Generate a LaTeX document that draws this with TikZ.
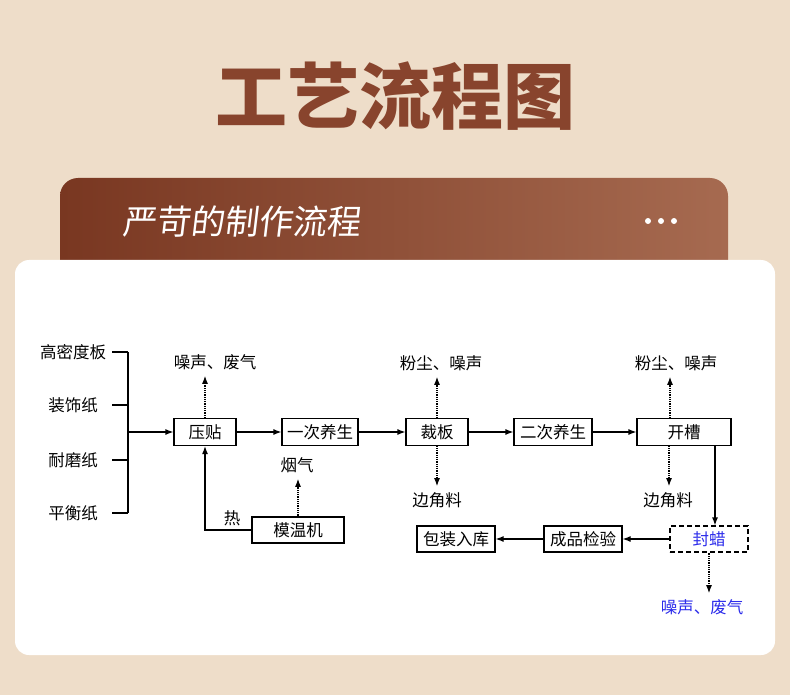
\documentclass[tikz,border=0pt]{standalone}
\usepackage{fontspec}
\setmainfont{Noto Sans CJK SC}
\newfontfamily\cjkslant[FakeSlant=0.12]{Noto Sans CJK SC}
\usetikzlibrary{arrows.meta,calc}
\definecolor{PageClr}{RGB}{238,221,201}
\definecolor{TitleClr}{RGB}{136,68,45}
\definecolor{BandLeftClr}{RGB}{121,55,33}
\definecolor{BandRightClr}{RGB}{166,106,80}
\definecolor{WaxClr}{RGB}{45,45,235}

\begin{document}
\begin{tikzpicture}[x=1pt,y=-1pt,
  txt/.style={inner sep=0pt,font=\fontsize{16.5}{18}\selectfont},
  box/.style={draw,line width=1.2pt,minimum height=27pt,inner sep=0pt,font=\fontsize{16.5}{18}\selectfont},
  flow/.style={-{Latex[length=8pt,width=6pt]},line width=1.2pt},
  vent/.style={-{Latex[length=8pt,width=6pt]},line width=1.1pt,dash pattern=on 1pt off 0.8pt,shorten >=6pt}]

\fill[PageClr] (0,0) rectangle (790,695);
\node[TitleClr,font=\fontsize{72}{74}\selectfont\bfseries] (title) at (395,96) {工艺流程图};
\shade[left color=BandLeftClr,right color=BandRightClr,rounded corners=18pt] (60,178) rectangle (728,300);
\node[white,anchor=west,inner sep=0pt,font=\fontsize{34}{36}\cjkslant] (band) at (122,222) {严苛的制作流程};
\foreach \x in {648,661,674} \fill[white] (\x,221) circle (3pt);
\fill[white,rounded corners=14pt] (15,260) rectangle (775,655);

\node[txt] (hdf) at (73,352) {高密度板};
\node[txt] (zsz) at (73,405) {装饰纸};
\node[txt] (nmz) at (73,460) {耐磨纸};
\node[txt] (phz) at (73,513) {平衡纸};
\coordinate (tick) at (112,432);
\coordinate (brM) at (128,432);

\node[box,minimum width=62pt] (yt) at (205,432) {压贴};
\node[box,minimum width=76pt] (yc) at (320,432) {一次养生};
\node[box,minimum width=62pt] (cb) at (437,432) {裁板};
\node[box,minimum width=78pt] (ec) at (553,432) {二次养生};
\node[box,minimum width=94pt] (kc) at (684,432) {开槽};
\node[box,dash pattern=on 5pt off 3pt,text=WaxClr,minimum width=78pt,minimum height=26pt] (fl) at (709,539) {封蜡};
\node[box,minimum width=78pt,minimum height=26pt] (jy) at (583,539) {成品检验};
\node[box,minimum width=78pt,minimum height=26pt] (bz) at (456,539) {包装入库};
\node[box,minimum width=92pt,minimum height=26pt] (mw) at (298,530) {模温机};

\node[txt] (fq1) at (215,362) {噪声、废气};
\node[txt] (yq) at (297,465) {烟气};
\node[txt] (fc1) at (441,363) {粉尘、噪声};
\node[txt] (bj1) at (437,500) {边角料};
\node[txt] (fc2) at (676,363) {粉尘、噪声};
\node[txt] (bj2) at (668,500) {边角料};
\node[txt,text=WaxClr] (fq2) at (702,607) {噪声、废气};
\node[txt] (re) at (232,518) {热};

\foreach \n in {hdf,zsz,nmz,phz} \draw[line width=1.2pt] (\n -| tick) -- (\n -| brM);
\draw[line width=1.2pt] (hdf -| brM) -- (phz -| brM);
\draw[flow] (brM) -- (yt);
\draw[flow] (yt) -- (yc);
\draw[flow] (yc) -- (cb);
\draw[flow] (cb) -- (ec);
\draw[flow] (ec) -- (kc);
\draw[flow] ([xshift=31pt]kc.south) -- ([xshift=31pt]kc.south |- fl.north);
\draw[flow] (fl) -- (jy);
\draw[flow] (jy) -- (bz);
\draw[flow] (mw.west) -- (mw.west -| yt.south) -- (yt.south);

\draw[vent] (yt.north) -- (yt.north |- fq1.south);
\draw[vent] (mw.north) -- (mw.north |- yq.south);
\draw[vent] (cb.north) -- (cb.north |- fc1.south);
\draw[vent] (cb.south) -- (cb.south |- bj1.north);
\draw[vent] ([xshift=-14pt]kc.north) -- ([xshift=-14pt]kc.north |- fc2.south);
\draw[vent] ([xshift=-15pt]kc.south) -- ([xshift=-15pt]kc.south |- bj2.north);
\draw[vent] (fl.south) -- (fl.south |- fq2.north);

\end{tikzpicture}
\end{document}
